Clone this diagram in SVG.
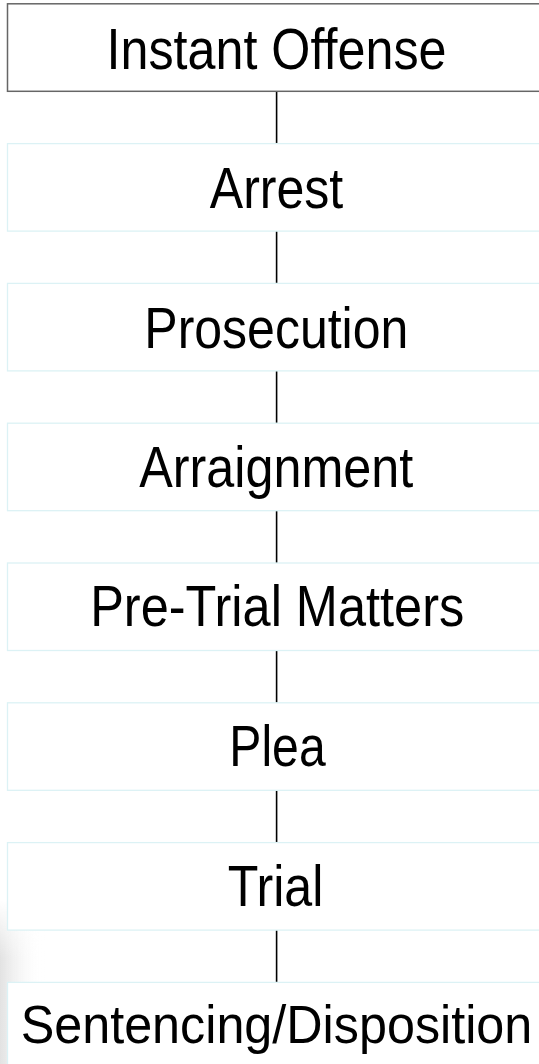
<svg xmlns="http://www.w3.org/2000/svg" width="539" height="1064" viewBox="0 0 539 1064">
<style>
.box{fill:#ffffff;stroke:#dcf2f5;stroke-width:1.3}
.box0{fill:#ffffff;stroke:#666666;stroke-width:1.5}
.lbl{font-family:"Liberation Sans",Arial,sans-serif;font-size:58px;fill:#000000;text-anchor:middle}
.conn{stroke:#000000;stroke-width:1.6;fill:none}
</style>
<defs>
<linearGradient id="shade" x1="0" y1="0" x2="1" y2="0">
<stop offset="0" stop-color="#e2e2e2" stop-opacity="1"/>
<stop offset="1" stop-color="#ffffff" stop-opacity="0"/>
</linearGradient>
<linearGradient id="fadeV" x1="0" y1="0" x2="0" y2="1">
<stop offset="0" stop-color="#ffffff" stop-opacity="0"/>
<stop offset="0.35" stop-color="#ffffff" stop-opacity="1"/>
<stop offset="1" stop-color="#ffffff" stop-opacity="1"/>
</linearGradient>
<mask id="m"><rect x="0" y="900" width="45" height="164" fill="url(#fadeV)"/></mask>
</defs>
<rect x="0" y="0" width="539" height="1064" fill="#ffffff"/>
<rect x="0" y="900" width="45" height="164" fill="url(#shade)" mask="url(#m)"/>
<g id="connectors">
<line class="conn" x1="276.6" y1="91.3" x2="276.6" y2="143.6"/>
<line class="conn" x1="276.6" y1="231.1" x2="276.6" y2="283.4"/>
<line class="conn" x1="276.6" y1="370.9" x2="276.6" y2="423.2"/>
<line class="conn" x1="276.6" y1="510.7" x2="276.6" y2="563.0"/>
<line class="conn" x1="276.6" y1="650.5" x2="276.6" y2="702.8"/>
<line class="conn" x1="276.6" y1="790.3" x2="276.6" y2="842.6"/>
<line class="conn" x1="276.6" y1="930.1" x2="276.6" y2="982.4"/>
</g>
<g id="n1"><rect class="box0" x="7.5" y="3.8" width="538" height="87.5"/><text class="lbl" x="276.5" y="68.5" textLength="340" lengthAdjust="spacingAndGlyphs">Instant Offense</text></g>
<g id="n2"><rect class="box" x="7.5" y="143.6" width="538" height="87.5"/><text class="lbl" x="276.5" y="207.5" textLength="133.5" lengthAdjust="spacingAndGlyphs">Arrest</text></g>
<g id="n3"><rect class="box" x="7.5" y="283.4" width="538" height="87.5"/><text class="lbl" x="276.3" y="347.8" textLength="264" lengthAdjust="spacingAndGlyphs">Prosecution</text></g>
<g id="n4"><rect class="box" x="7.5" y="423.2" width="538" height="87.5"/><text class="lbl" x="276.3" y="487" textLength="274" lengthAdjust="spacingAndGlyphs">Arraignment</text></g>
<g id="n5"><rect class="box" x="7.5" y="563.0" width="538" height="87.5"/><text class="lbl" x="277.2" y="626.3" textLength="374" lengthAdjust="spacingAndGlyphs">Pre-Trial Matters</text></g>
<g id="n6"><rect class="box" x="7.5" y="702.8" width="538" height="87.5"/><text class="lbl" x="277.5" y="766.2" textLength="96.3" lengthAdjust="spacingAndGlyphs">Plea</text></g>
<g id="n7"><rect class="box" x="7.5" y="842.6" width="538" height="87.5"/><text class="lbl" x="275.5" y="906" textLength="95.7" lengthAdjust="spacingAndGlyphs">Trial</text></g>
<g id="n8"><rect class="box" x="7.5" y="982.4" width="538" height="87.5"/><text class="lbl" x="276.5" y="1043" style="font-size:54px" textLength="511.6" lengthAdjust="spacingAndGlyphs">Sentencing/Disposition</text></g>
</svg>
